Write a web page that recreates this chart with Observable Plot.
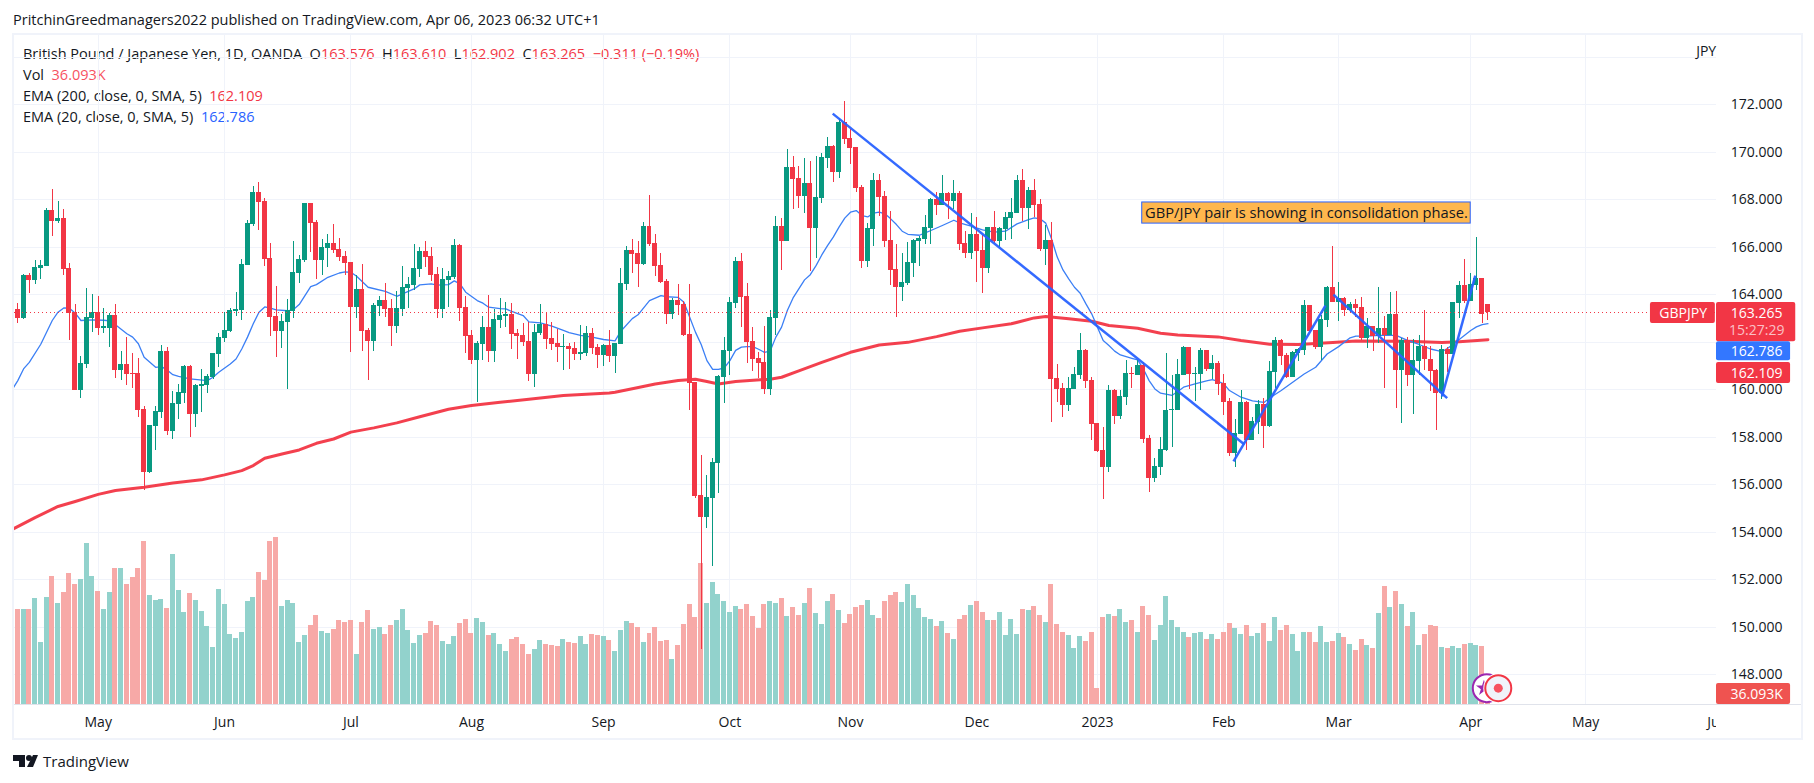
<!DOCTYPE html>
<html>
<head>
<meta charset="utf-8">
<script src="https://cdn.jsdelivr.net/npm/d3@7"></script>
<script src="https://cdn.jsdelivr.net/npm/@observablehq/plot@0.6"></script>
<style>
html,body{margin:0;padding:0;background:#fff;width:1814px;height:783px;overflow:hidden;font-family:"Open Sans",sans-serif;color:#131722}
#root{position:relative;width:1814px;height:783px}
#root svg{position:absolute;left:0;top:0}
.frame{position:absolute;left:12px;top:33px;width:1791px;height:707px;box-sizing:border-box;border:2px solid #f0f3fa}
.pub{position:absolute;left:13px;top:11px;font-size:14.5px;line-height:18px;white-space:nowrap}
.lg{position:absolute;left:23px;font-size:14.5px;line-height:18px;white-space:pre}
.r{color:#f23645}.b{color:#2962ff}.v{color:#f7525f}
.brand{position:absolute;left:43px;top:751px;font-size:15px;line-height:20px;color:#131722}
.logo{position:absolute;background:#131722}
</style>
</head>
<body>
<div id="root">
<div class="frame"></div>
<div class="pub">PritchinGreedmanagers2022 published on TradingView.com, Apr 06, 2023 06:32 UTC+1</div>
<div class="lg" style="top:45px">British Pound / Japanese Yen, 1D, OANDA  O<span class="r">163.576</span>  H<span class="r">163.610</span>  L<span class="r">162.902</span>  C<span class="r">163.265</span>  <span class="r">−0.311 (−0.19%)</span></div>
<div class="lg" style="top:66px">Vol  <span class="v">36.093K</span></div>
<div class="lg" style="top:87px">EMA (200, close, 0, SMA, 5)  <span class="r">162.109</span></div>
<div class="lg" style="top:108px">EMA (20, close, 0, SMA, 5)  <span class="b">162.786</span></div>
<div class="logo" style="left:13px;top:755px;width:12px;height:12px;clip-path:polygon(0 0,12px 0,12px 12px,6px 12px,6px 6px,0 6px)"></div>
<div class="logo" style="left:26px;top:755px;width:6px;height:6px;border-radius:50%"></div>
<div class="logo" style="left:27px;top:755px;width:11px;height:12px;clip-path:polygon(6px 0,11px 0,6px 12px,0 12px)"></div>
<div class="brand">TradingView</div>
</div>
<script>
const opens=[163.38,163.02,164.81,164.60,165.11,165.19,167.55,167.09,167.21,165.11,
163.26,159.97,161.07,163.00,163.26,162.60,162.58,163.13,160.81,161.07,
160.69,160.69,159.17,156.52,158.45,159.05,161.61,158.24,159.38,159.84,
160.98,158.96,160.14,160.18,160.52,161.49,162.16,162.46,163.30,163.34,
165.23,166.96,168.31,167.93,165.53,163.09,162.46,162.83,163.30,164.90,
165.44,167.85,167.04,165.44,165.95,166.16,165.91,165.61,165.36,163.47,
164.22,162.50,162.03,163.51,163.76,163.42,162.66,163.38,164.27,164.39,
165.07,165.82,165.61,164.86,163.38,164.60,164.73,166.08,163.47,162.29,
161.23,161.91,162.62,161.61,162.92,163.09,163.17,162.37,162.29,162.03,
160.64,162.37,162.75,162.16,161.95,161.79,161.82,161.74,161.50,161.53,
162.37,161.78,161.44,161.86,161.40,161.91,164.43,165.87,165.74,165.28,
166.88,166.16,165.23,164.56,163.17,163.76,163.59,162.33,160.30,155.55,
154.62,155.42,156.90,160.52,161.61,163.63,165.40,163.93,162.03,161.32,
161.15,160.01,163.00,166.88,166.24,169.36,168.90,168.14,168.69,166.79,
168.05,169.74,170.24,169.15,171.25,170.58,170.20,168.52,165.40,166.75,
168.81,168.14,166.29,165.07,164.31,164.48,165.32,166.24,166.33,166.79,
168.01,167.76,168.26,167.93,168.26,166.16,165.74,166.54,165.86,165.11,
166.83,166.24,166.75,167.21,167.42,168.81,167.63,168.39,167.80,165.91,
166.29,160.48,160.05,159.34,160.01,160.60,161.65,160.39,158.58,157.44,
156.73,159.97,158.88,159.68,160.69,160.60,161.02,157.95,156.26,156.73,
157.44,159.13,159.13,160.60,161.78,160.64,160.64,161.65,160.85,161.11,
160.27,159.51,157.32,158.12,159.47,157.86,158.62,159.38,158.45,160.73,
162.08,161.44,160.52,161.53,161.65,163.55,162.50,161.78,162.92,164.31,
163.68,163.84,163.34,163.59,163.46,162.16,162.66,162.24,162.58,162.29,
163.17,160.81,162.08,160.60,161.19,161.82,161.28,160.81,159.84,161.70,
161.49,163.63,164.39,163.72,164.39,164.69,163.576];
const highs=[163.62,164.84,164.91,165.44,165.44,167.63,168.43,167.93,167.59,165.32,
163.59,161.40,164.27,164.01,163.93,163.42,163.21,163.59,161.61,162.20,
161.53,161.32,159.30,158.50,159.30,161.87,161.78,159.93,160.22,161.02,
161.02,160.22,160.86,160.64,161.53,162.37,163.26,163.42,164.10,165.49,
167.13,168.56,168.73,168.05,166.16,164.35,163.17,163.80,166.24,165.66,
167.85,167.85,167.13,166.33,166.54,166.96,166.37,165.82,165.36,164.81,
165.28,162.58,163.63,163.93,164.48,163.80,164.14,165.19,164.73,166.12,
165.99,166.24,165.99,165.15,165.11,164.98,166.33,166.12,163.93,162.50,
162.03,163.09,163.97,163.38,163.84,163.68,163.63,162.54,162.79,162.83,
162.75,163.59,163.26,162.83,162.54,162.33,161.95,161.99,162.71,162.66,
162.58,161.91,161.91,162.50,161.95,165.11,166.03,166.33,166.24,167.05,
168.18,166.54,165.74,164.65,163.84,164.43,163.72,164.43,160.30,157.23,
156.39,157.11,160.60,162.20,163.89,165.57,165.74,164.48,162.62,161.57,
162.67,163.34,167.30,167.21,170.12,169.82,169.40,169.74,169.61,169.82,
169.95,170.62,170.29,171.42,172.14,170.96,170.20,168.60,167.00,169.11,
169.07,168.35,167.51,166.12,165.74,166.20,166.33,166.45,167.34,168.05,
168.31,169.02,168.31,168.81,168.35,166.66,167.42,167.25,166.50,166.83,
167.51,166.85,167.46,168.05,169.02,169.28,168.50,168.85,168.01,166.92,
167.04,161.07,160.27,160.52,160.94,162.37,161.70,160.52,158.58,158.41,
160.18,160.01,159.97,161.23,160.94,161.23,161.15,158.08,157.11,157.99,
161.53,160.60,161.28,161.82,161.78,160.94,161.74,161.65,161.44,161.19,
160.64,159.63,158.75,159.97,159.51,158.83,159.55,159.63,161.19,162.20,
162.12,161.53,161.61,161.74,163.76,163.55,162.50,163.13,164.35,166.03,
164.52,163.89,163.68,163.80,163.89,163.00,162.66,164.31,163.09,164.10,
164.14,162.16,162.20,162.12,162.29,163.34,161.82,160.85,161.87,161.78,
163.68,164.56,165.49,164.90,166.41,164.69,163.610];
const lows=[162.81,162.96,164.07,164.43,164.65,165.19,166.46,167.00,164.81,162.08,
159.97,159.63,160.90,162.41,162.29,162.37,161.78,160.48,160.39,160.18,
160.06,158.83,155.76,156.47,157.44,158.79,158.08,157.91,158.75,159.42,
158.00,158.41,159.05,159.84,160.43,160.94,161.99,162.41,163.09,162.92,
165.23,166.88,166.71,165.19,162.25,161.36,161.74,160.01,163.00,164.48,
165.36,165.78,164.65,164.81,165.15,165.74,165.40,164.81,161.57,163.00,
161.61,160.39,161.61,163.09,163.05,161.82,162.37,163.09,163.42,164.18,
164.73,165.15,164.56,163.00,163.00,163.47,164.65,162.88,161.53,161.07,
159.46,161.23,161.15,161.15,162.58,162.62,161.70,161.28,161.82,160.35,
160.10,162.29,161.70,161.66,161.15,160.81,160.86,161.23,161.23,161.40,
161.49,160.90,160.98,161.15,160.69,161.91,164.18,164.90,164.31,165.23,
166.03,164.77,164.48,162.75,162.96,163.13,162.25,159.13,155.42,149.07,
154.16,152.56,155.63,159.42,160.60,163.42,162.62,161.11,160.77,160.46,
159.79,159.76,162.29,165.02,166.24,167.59,167.63,167.42,164.98,165.53,
167.84,169.32,168.73,168.90,170.33,169.49,168.31,165.11,165.15,166.03,
167.30,165.99,164.39,163.04,163.72,164.39,164.73,165.19,166.12,166.12,
167.34,167.76,167.17,167.59,165.86,165.53,165.49,164.52,164.05,164.90,
166.16,165.99,166.29,166.33,167.42,167.09,166.75,167.25,165.82,165.23,
158.62,159.47,158.83,159.09,160.01,160.43,160.05,157.86,157.36,155.38,
156.52,158.54,158.75,159.34,160.04,160.60,157.74,155.68,156.10,156.39,
157.40,157.57,159.13,160.60,160.01,159.51,159.97,160.77,160.43,159.76,
158.92,157.19,156.73,158.12,157.44,157.86,158.12,157.53,158.41,160.05,
161.02,160.48,160.52,161.19,161.44,162.41,161.70,161.23,162.62,163.68,
162.89,163.09,163.21,163.04,162.08,161.74,161.61,161.95,160.05,162.29,
159.21,158.58,160.14,158.96,160.60,160.81,159.93,158.29,159.59,160.73,
161.49,163.00,163.63,163.72,164.18,162.79,162.902];
const closes=[163.02,164.81,164.60,165.15,165.23,167.55,167.09,167.21,165.07,163.21,
159.97,161.11,163.05,163.26,162.58,162.65,163.13,160.81,161.07,160.64,
160.64,159.13,156.52,158.50,159.09,161.61,158.24,159.42,159.89,160.98,
158.96,160.18,160.22,160.56,161.53,162.20,162.50,163.34,163.38,165.28,
167.00,168.31,167.89,165.49,163.05,162.46,162.88,163.34,164.94,165.49,
167.85,167.00,165.44,165.99,166.16,165.87,165.57,165.32,163.47,164.22,
162.46,162.03,163.55,163.76,163.38,162.66,163.42,164.31,164.43,165.11,
165.82,165.57,164.81,163.38,164.65,164.77,166.08,163.42,162.25,161.23,
161.95,162.62,161.61,162.96,163.13,163.17,162.33,162.25,161.99,160.64,
162.41,162.75,162.12,161.91,161.78,161.84,161.70,161.49,161.57,162.37,
161.74,161.44,161.86,161.40,161.95,164.48,165.87,165.70,165.28,166.88,
166.12,165.19,164.52,163.17,163.76,163.55,162.29,160.26,155.51,154.62,
155.47,156.94,160.56,161.66,163.68,165.40,163.89,161.99,161.28,161.11,
160.01,163.05,166.88,166.24,169.36,168.85,168.14,168.69,166.79,168.10,
169.78,170.24,169.15,171.25,170.54,170.16,168.48,165.40,166.79,168.81,
168.10,166.24,165.02,164.31,164.52,165.36,166.29,166.37,166.83,168.01,
167.76,168.26,167.93,168.26,166.12,165.74,166.54,165.82,165.11,166.83,
166.24,166.79,167.25,167.46,168.81,167.63,168.39,167.76,165.91,166.29,
160.43,160.01,159.34,160.05,160.64,161.65,160.35,158.54,157.40,156.73,
159.97,158.88,159.72,160.69,160.64,161.02,157.91,156.26,156.77,157.49,
159.13,159.19,160.64,161.78,160.64,160.70,161.65,160.85,161.11,160.22,
159.47,157.32,158.16,159.47,157.86,158.66,159.38,158.45,160.77,162.08,
161.40,160.52,161.57,161.70,163.55,162.45,161.78,162.96,164.31,163.68,
163.84,163.34,163.59,163.42,162.16,162.66,162.24,162.58,162.29,163.17,
160.81,162.08,160.60,161.23,161.82,161.28,160.77,159.84,161.70,161.49,
163.68,164.39,163.72,164.43,164.69,163.17,163.265];
const volumes=[123.5,123.5,123.5,137.8,80.6,139.1,166.4,131.3,145.6,170.3,
156.0,162.5,209.3,166.4,146.9,123.5,145.6,176.8,176.8,156.0,
165.1,176.8,211.9,141.7,135.2,136.5,124.8,195.0,148.2,119.6,
144.3,135.2,120.9,101.4,74.1,149.5,130.0,91.0,85.8,93.6,
133.9,139.1,171.6,161.2,211.9,217.1,127.4,135.2,131.3,80.6,
89.7,102.7,115.7,94.9,92.3,97.5,109.2,106.6,109.2,65.0,
106.6,122.2,97.5,100.1,91.0,102.7,109.2,123.5,96.2,79.3,
89.7,92.3,107.9,102.7,81.9,78.0,88.4,105.3,110.5,92.3,
111.8,106.6,89.7,92.3,78.0,68.9,84.5,87.1,78.0,65.0,
71.5,83.2,78.0,76.7,75.4,84.5,80.6,79.3,88.4,78.0,
91.0,89.7,88.4,83.2,68.9,96.2,107.9,105.3,100.1,80.6,
92.3,100.1,81.9,83.2,58.5,76.7,104.0,130.0,113.1,183.3,
131.3,158.6,143.0,133.9,119.6,127.4,123.5,130.0,114.4,98.8,
130.0,133.9,131.3,137.8,114.4,126.1,115.7,131.3,150.8,118.3,
104.0,133.9,143.0,122.2,105.3,117.0,126.1,128.7,135.2,115.7,
111.8,133.9,141.7,145.6,132.6,156.0,141.7,124.8,113.1,110.5,
101.4,107.9,92.3,84.5,110.5,115.7,128.7,133.9,119.6,109.2,
109.2,119.6,89.7,110.5,91.0,123.5,122.2,127.4,115.7,106.6,
156.0,104.0,93.6,89.7,72.8,88.4,81.9,93.6,20.8,113.1,
117.0,114.4,123.5,106.6,109.2,93.6,127.4,115.7,83.2,102.7,
140.4,109.2,100.1,93.6,87.1,92.3,93.6,84.5,91.0,84.5,
93.6,105.3,98.8,91.0,102.7,88.4,92.3,105.3,81.9,113.1,
96.2,102.7,91.0,68.9,93.6,93.6,80.6,101.4,80.6,81.9,
92.3,87.1,78.0,70.2,84.5,76.7,72.8,118.3,153.4,126.1,
146.9,130.0,101.4,119.6,76.7,91.0,102.7,101.4,74.1,72.8,
75.4,72.8,78.0,79.3,76.7,75.4,36.093];

const ema20Index=[-1,0,1,2,4,6,7,8,9,10,11,13,15,16,17,19,20,21,22,24,25,26,27,28,30,33,34,35,37,38,39,40,41,42,43,44,45,47,48,49,51,52,54,56,57,58,59,61,64,66,
67,69,70,72,73,75,76,77,78,80,81,82,84,85,86,88,89,91,93,95,96,98,100,102,104,105,107,108,110,112,113,115,116,117,118,119,120,121,122,123,124,125,126,127,128,129,130,131,132,133,134,135,136,
137,138,139,140,141,142,143,144,145,146,147,148,149,150,151,152,153,154,155,157,158,159,161,163,164,166,168,170,172,174,176,177,178,179,180,181,182,183,184,185,186,187,188,
189,190,191,192,194,195,196,197,198,199,201,202,203,205,207,208,209,210,211,213,215,217,218,220,222,224,226,228,230,232,233,235,237,239,240,242,244,246,248,249,251,253,254,255,256];
const ema20Value=[160.0,160.39,160.88,161.16,161.92,162.92,163.27,163.45,163.44,163.23,162.92,162.95,162.93,162.90,162.74,162.36,162.22,161.94,161.37,160.95,160.98,160.84,160.64,160.57,160.46,160.39,160.53,160.74,161.09,161.30,161.72,162.22,162.78,163.27,163.49,163.44,163.37,163.33,163.38,163.59,164.35,164.43,164.74,164.92,164.97,164.95,164.78,164.32,164.15,163.94,
164.04,164.25,164.42,164.46,164.41,164.43,164.59,164.46,164.11,163.76,163.65,163.48,163.42,163.41,163.30,163.13,162.86,162.82,162.68,162.50,162.41,162.29,162.22,162.12,162.06,162.47,163.00,163.16,163.76,163.97,163.92,163.89,163.69,163.06,162.43,161.91,161.23,160.86,160.86,160.92,161.23,161.66,161.80,161.82,161.82,161.71,161.58,161.63,162.22,162.64,163.34,163.87,164.25,
164.63,164.85,165.23,165.68,166.07,166.43,166.85,167.23,167.48,167.55,167.34,167.28,167.44,167.48,167.41,167.20,166.96,166.68,166.55,166.51,166.61,166.71,166.92,167.14,167.03,166.89,166.74,166.64,166.68,166.99,167.17,167.24,167.20,167.02,166.36,165.59,165.05,164.67,164.32,164.07,163.62,163.20,162.64,
162.08,161.87,161.63,161.47,161.33,161.26,160.88,160.39,160.04,159.86,159.77,159.93,160.11,160.25,160.38,160.43,160.36,160.25,159.97,159.69,159.54,159.47,159.66,159.97,160.32,160.67,160.95,161.51,161.82,162.19,162.26,162.26,162.29,162.29,162.29,162.08,161.91,161.72,161.61,161.75,162.12,162.50,162.65,162.75,162.786];
const ema200Index=[-1,3,7,10,14,17,22,27,32,36,39,41,43,46,49,52,55,58,62,66,70,75,79,84,89,95,103,104,107,111,115,118,120,122,125,131,133,136,140,145,150,155,160,164,168,173,177,179,183,187,190,195,199,202,209,213,218,223,229,233,242,248,251,256];
const ema200Value=[154.12,154.62,155.09,155.30,155.60,155.76,155.90,156.08,156.21,156.42,156.60,156.81,157.12,157.30,157.47,157.75,157.93,158.22,158.40,158.61,158.87,159.18,159.34,159.48,159.60,159.76,159.87,159.90,160.05,160.25,160.39,160.45,160.35,160.25,160.35,160.45,160.53,160.80,161.16,161.58,161.89,162.00,162.24,162.47,162.61,162.78,163.03,163.09,162.99,162.89,162.71,162.59,162.38,162.31,162.23,162.08,161.92,161.91,161.99,162.06,162.05,161.99,162.03,162.109];

const trendIndex=[[141.9,213.6],[211.7,227.7],[229.1,248.9],[248.0,253.8]];
const trendPrice=[[171.63,157.70],[156.99,163.55],[164.01,159.65],[159.72,164.81]];

const monthIndex=[14,36,58,79,102,124,145,167,188,210,230,253,273,296];
const monthLabel=["May","Jun","Jul","Aug","Sep","Oct","Nov","Dec","2023","Feb","Mar","Apr","May","Jun"];
const gridPrices=[148,150,152,154,156,158,160,162,164,166,168,170,172,174];
const axisPrices=[148,150,152,154,156,158,160,164,166,168,170,172];

const UP="#089981", DOWN="#f23645", BLUE="#2962ff", EMA20="#3b7ff5";
const FLOOR=146.75;              // price level the volume pane rests on
const VOL_PER_UNIT=30.875;       // volume (K) per unit of the price axis
const PANE_LEFT=-0.575, PANE_RIGHT=295.8;
const SCALE_X=302.8;             // centre of the price-scale column

const candles=opens.map((o,i)=>({i,o,h:highs[i],l:lows[i],c:closes[i],v:volumes[i],up:closes[i]>=o}));
const ema20=ema20Index.map((i,k)=>({i,p:ema20Value[k]}));
const ema200=ema200Index.map((i,k)=>({i,p:ema200Value[k]}));
const trends=trendIndex.map((xs,k)=>({x1:xs[0],x2:xs[1],y1:trendPrice[k][0],y2:trendPrice[k][1]}));
const months=monthIndex.map((i,k)=>({i,label:monthLabel[k]}));
const col=d=>d.up?UP:DOWN;
const volCol=d=>d.up?"#92d2cc":"#f7a9a7";

const badges=[
 {x1:284.3,x2:295.6,y1:163.68,y2:162.79,fill:DOWN},
 {x1:295.8,x2:309.6,y1:163.68,y2:162.03,fill:DOWN},
 {x1:295.8,x2:308.7,y1:162.03,y2:161.23,fill:"#3377ff"},
 {x1:295.8,x2:308.7,y1:161.15,y2:160.27,fill:DOWN},
 {x1:295.8,x2:308.7,y1:147.64,y2:146.75,fill:"#ef5350"}
];
const badgeText=[
 {x:290,y:163.23,t:"GBPJPY",fill:"#fff"},
 {x:SCALE_X,y:163.23,t:"163.265",fill:"#fff"},
 {x:SCALE_X,y:162.50,t:"15:27:29",fill:"#fbc0c6"},
 {x:SCALE_X,y:161.61,t:"162.786",fill:"#fff"},
 {x:SCALE_X,y:160.69,t:"162.109",fill:"#fff"},
 {x:SCALE_X,y:147.18,t:"36.093K",fill:"#fff"}
];

const plot=Plot.plot({
  width:1814,height:783,
  marginTop:35,marginBottom:45,marginLeft:14,marginRight:98,
  style:{fontFamily:"'Open Sans',sans-serif",background:"transparent",overflow:"visible"},
  x:{type:"linear",domain:[PANE_LEFT,PANE_RIGHT],axis:null},
  y:{type:"linear",domain:[145.32,174.92],axis:null},
  marks:[
    Plot.ruleY(gridPrices,{x1:PANE_LEFT,x2:PANE_RIGHT,stroke:"#f0f3fa",strokeWidth:1,shapeRendering:"crispEdges"}),
    Plot.ruleX(monthIndex,{y1:FLOOR,y2:174.92,stroke:"#f0f3fa",strokeWidth:1,clip:true,shapeRendering:"crispEdges"}),
    Plot.rect(candles,{x1:d=>d.i-0.435,x2:d=>d.i+0.435,y1:FLOOR,y2:d=>FLOOR+d.v/VOL_PER_UNIT,fill:volCol,clip:true,shapeRendering:"crispEdges"}),
    Plot.ruleY([FLOOR],{x1:PANE_LEFT,x2:310.6,stroke:"#e0e3eb",strokeWidth:1,shapeRendering:"crispEdges"}),
    Plot.line(ema200,{x:"i",y:"p",stroke:DOWN,strokeWidth:3,strokeOpacity:0.95,clip:true}),
    Plot.line(ema20,{x:"i",y:"p",stroke:EMA20,strokeWidth:1.3,clip:true}),
    Plot.ruleX(candles,{x:"i",y1:"l",y2:"h",stroke:col,strokeWidth:1,clip:true,shapeRendering:"crispEdges"}),
    Plot.rect(candles,{x1:d=>d.i-0.435,x2:d=>d.i+0.435,y1:"o",y2:"c",fill:col,clip:true,shapeRendering:"crispEdges"}),
    Plot.ruleY([163.265],{x1:PANE_LEFT,x2:PANE_RIGHT,stroke:DOWN,strokeWidth:1,strokeDasharray:"1,3",shapeRendering:"crispEdges"}),
    Plot.link(trends,{x1:"x1",x2:"x2",y1:"y1",y2:"y2",stroke:BLUE,strokeWidth:2.5,strokeOpacity:0.95}),
    Plot.rect([{x1:195.8,x2:253,y1:167.89,y2:167.0}],{x1:"x1",x2:"x2",y1:"y1",y2:"y2",fill:"#ffb74d",stroke:BLUE,strokeWidth:1}),
    Plot.text(["GBP/JPY pair is showing in consolidation phase."],{x:224.4,y:167.44,fontSize:14.7,fill:"#131722"}),
    Plot.dot([{x:255.8,y:147.44}],{x:"x",y:"y",r:14,fill:"#fff",stroke:"#9c27b0",strokeWidth:2}),
    Plot.dot([{x:255.3,y:147.44}],{x:"x",y:"y",r:5,symbol:"star",fill:"#9c27b0"}),
    Plot.dot([{x:257.8,y:147.44}],{x:"x",y:"y",r:15,fill:"#fff"}),
    Plot.dot([{x:257.8,y:147.44}],{x:"x",y:"y",r:13,fill:"#f0f3fa",stroke:DOWN,strokeWidth:2}),
    Plot.dot([{x:257.8,y:147.44}],{x:"x",y:"y",r:4.5,fill:"#f7525f"}),
    Plot.text(months,{x:"i",y:146.0,text:"label",fontSize:14,fill:"#131722",clip:true,fontWeight:d=>d.label==="2023"?"bold":"normal"}),
    Plot.text(["JPY"],{x:294.0,y:174.25,fontSize:14,fill:"#131722"}),
    Plot.text(axisPrices,{x:SCALE_X,y:d=>d,text:d=>d.toFixed(3),fontSize:14,fill:"#131722"}),
    Plot.rect(badges,{x1:"x1",x2:"x2",y1:"y1",y2:"y2",fill:"fill",r:2}),
    Plot.text(badgeText,{x:"x",y:"y",text:"t",fill:"fill",fontSize:14,fontWeight:500})
  ]
});
document.getElementById("root").appendChild(plot);
</script>
</body>
</html>
